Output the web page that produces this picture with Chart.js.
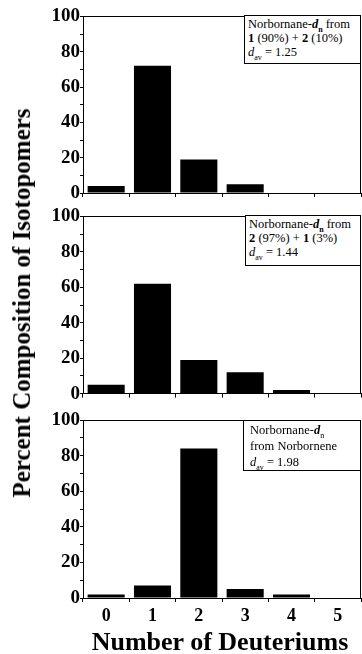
<!DOCTYPE html>
<html>
<head>
<meta charset="utf-8">
<script src="https://cdn.jsdelivr.net/npm/chart.js@4"></script>
<style>
  body { margin: 0; background: #fff; width: 362px; height: 654px; position: relative; overflow: hidden; }
  canvas { position: absolute; left: 0; }
  .note { position: absolute; box-sizing: border-box; border: 1px solid #000; background: #fff;
          font-family: "Liberation Serif", "DejaVu Serif", serif; font-size: 12.5px; line-height: 14px;
          padding: 1px 3px; color: #000; white-space: nowrap; }
  .note sub { font-size: 8px; line-height: 0; }
  .ytitle { position: absolute; left: 22px; top: 303px; transform: translate(-50%, -50%) rotate(-90deg);
            font-family: "Liberation Serif", serif; font-weight: bold; font-size: 25px; white-space: nowrap; }
  .xtitle { position: absolute; left: 220px; top: 642px; transform: translate(-50%, -50%);
            font-family: "Liberation Serif", serif; font-weight: bold; font-size: 26px; white-space: nowrap; }
</style>
</head>
<body>
<canvas id="c1" width="362" height="200" style="top:5px"></canvas>
<canvas id="c2" width="362" height="200" style="top:205px"></canvas>
<canvas id="c3" width="362" height="225" style="top:405px"></canvas>

<div class="note" style="left:244px;top:15px;width:117px;height:49px">Norbornane-<b><i>d</i></b><sub><b>n</b></sub> from<br><b>1</b> (90%) + <b>2</b> (10%)<br><i>d</i><sub>av</sub> = 1.25</div>
<div class="note" style="left:245px;top:215px;width:116px;height:51px">Norbornane-<b><i>d</i></b><sub><b>n</b></sub> from<br><b>2</b> (97%) + <b>1</b> (3%)<br><i>d</i><sub>av</sub> = 1.44</div>
<div class="note" style="left:243px;top:420px;width:118px;height:51px;line-height:16px;padding-left:6px">Norbornane-<b><i>d</i></b><sub>n</sub><br>from Norbornene<br><i>d</i><sub>av</sub> = 1.98</div>

<div class="ytitle">Percent Composition of Isotopomers</div>
<div class="xtitle">Number of Deuteriums</div>

<script>
const deuteriums = ['0', '1', '2', '3', '4', '5'];
const fromMix90 = [4, 72, 19, 5, 0, 0];      // 1 (90%) + 2 (10%)
const fromMix97 = [5, 62, 19, 12, 2, 0];     // 2 (97%) + 1 (3%)
const fromNorbornene = [2, 7, 84, 5, 2, 0];
const yMajor = [0, 20, 40, 60, 80, 100];

const serif = '"Liberation Serif", "DejaVu Serif", serif';

const frame = {
  id: 'frame',
  afterDraw(chart) {
    const { ctx, chartArea: a } = chart;
    ctx.save();
    ctx.strokeStyle = '#000';
    ctx.lineWidth = 1;
    ctx.strokeRect(Math.round(a.left) + 0.5, Math.round(a.top) + 0.5,
                   Math.round(a.right - a.left) - 1, Math.round(a.bottom - a.top));
    ctx.restore();
  }
};

function panel(id, values, padTop, xHeight, showX) {
  new Chart(document.getElementById(id), {
    type: 'bar',
    data: {
      labels: deuteriums,
      datasets: [{ data: values, backgroundColor: '#000', borderWidth: 0,
                   barPercentage: 0.8, categoryPercentage: 1 }]
    },
    options: {
      responsive: false,
      devicePixelRatio: 1,
      animation: false,
      layout: { padding: { top: padTop, right: 1, left: 0, bottom: 0 } },
      plugins: { legend: { display: false }, tooltip: { enabled: false } },
      scales: {
        x: {
          grid: { drawOnChartArea: false, tickLength: 4, color: '#000', offset: true },
          border: { color: '#000' },
          ticks: { display: showX, color: '#000', padding: 4,
                   font: { family: serif, weight: 'bold', size: 18 } },
          afterFit: s => { s.height = xHeight; }
        },
        y: {
          min: 0, max: 100,
          grid: { drawOnChartArea: false, tickLength: 3, color: '#000' },
          border: { color: '#000' },
          ticks: {
            stepSize: 10, autoSkip: false, color: '#000', padding: 0,
            font: { family: serif, weight: 'bold', size: 19 },
            callback: v => yMajor.includes(v) ? v : ''
          },
          afterFit: s => { s.width = 83; }
        }
      }
    },
    plugins: [frame]
  });
}

panel('c1', fromMix90, 10, 12, false);
panel('c2', fromMix97, 10, 11, false);
panel('c3', fromNorbornene, 15, 32, true);
</script>
</body>
</html>
